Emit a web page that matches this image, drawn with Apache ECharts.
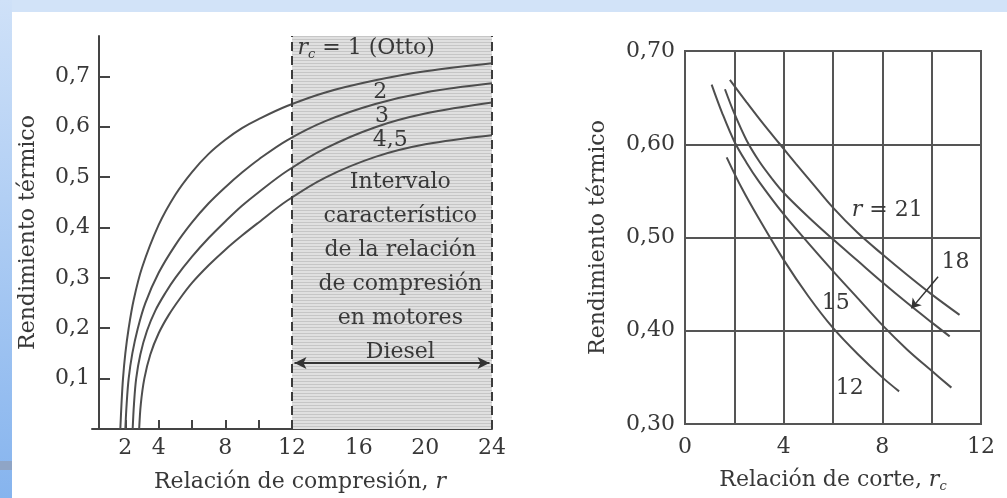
<!DOCTYPE html>
<html><head><meta charset="utf-8">
<script src="https://cdn.jsdelivr.net/npm/echarts@6/dist/echarts.min.js"></script>
<style>html,body{margin:0;padding:0;background:#fff}#c{width:1007px;height:498px}</style>
</head><body><div id="c"></div><script>
// ---------- Left chart: efficiency vs compression ratio, for cutoff ratios ----------
const leftXTicks = [2,4,6,8,10,12,14,16,18,20,22,24];
const leftXLabels = [2,4,8,12,16,20,24];
const leftYTicks = [0.1,0.2,0.3,0.4,0.5,0.6,0.7];
const curveOtto = [[1.70,0],[1.77,0.05],[1.86,0.1],[2.0,0.15],[2.2,0.2],[2.5,0.256],[3,0.32],[4,0.405],[5,0.465],[6,0.51],[7,0.546],[8,0.574],[9,0.597],[10,0.615],[11.7,0.641],[14,0.668],[17,0.692],[20,0.71],[24,0.726]];
const curveRc2 = [[2.0,0],[2.08,0.05],[2.2,0.1],[2.42,0.15],[2.75,0.2],[3.2,0.25],[4,0.31],[5,0.365],[6,0.41],[7,0.448],[8,0.48],[9,0.509],[10,0.535],[11.7,0.573],[14,0.611],[17,0.645],[20,0.668],[24,0.686]];
const curveRc3 = [[2.44,0],[2.52,0.05],[2.65,0.1],[2.9,0.148],[3.3,0.195],[3.8,0.235],[4.4,0.27],[5,0.3],[6,0.342],[7,0.379],[8,0.412],[9,0.443],[10,0.47],[11.7,0.512],[14,0.557],[17,0.599],[20,0.626],[24,0.648]];
const curveRc45 = [[2.83,0],[2.93,0.05],[3.14,0.1],[3.5,0.148],[4,0.19],[4.6,0.226],[5.3,0.26],[6,0.29],[7,0.325],[8,0.356],[9,0.384],[10,0.41],[11.7,0.453],[14,0.499],[17,0.54],[20,0.565],[24,0.583]];
const dieselRange = [12, 24];
const boxLines = ['Intervalo','característico','de la relación','de compresión','en motores','Diesel'];

// ---------- Right chart: efficiency vs cutoff ratio, for compression ratios ----------
const curveR12 = [[1.69,0.586],[2.3,0.553],[3,0.52],[4,0.476],[5,0.437],[6,0.403],[7,0.375],[8,0.35],[8.68,0.335]];
const curveR15 = [[1.08,0.664],[1.5,0.634],[2.0,0.603],[2.5,0.58],[3,0.56],[4,0.525],[5,0.494],[6,0.464],[7,0.435],[8,0.406],[9,0.38],[10,0.357],[10.8,0.339]];
const curveR18 = [[1.62,0.659],[2.0,0.633],[2.5,0.604],[3,0.582],[3.5,0.564],[4,0.548],[5,0.522],[6,0.498],[7,0.475],[8,0.452],[9,0.43],[10,0.409],[10.73,0.394]];
const curveR21 = [[1.82,0.669],[2.5,0.645],[3.2,0.621],[3.85,0.6],[4.5,0.579],[5.2,0.557],[6,0.532],[7,0.505],[8,0.482],[9,0.46],[10,0.439],[11.13,0.417]];

const FONT = 'DejaVu Serif';
const TXT = '#383838';
const LINE = '#4e4e4e';
const fmtComma = v => String(v).replace('.', ',');
const rich = {
  i: {fontFamily: FONT, fontStyle: 'italic', fontSize: 22, color: TXT},
  s: {fontFamily: FONT, fontStyle: 'italic', fontSize: 13, color: TXT, padding: [12,0,0,0]},
  n: {fontFamily: FONT, fontSize: 22, color: TXT}
};

// striped grey fill like the printed screen tone
const stripe = document.createElement('canvas');
stripe.width = 4; stripe.height = 3;
(function () {
  const g = stripe.getContext('2d');
  g.fillStyle = '#e0e0e0'; g.fillRect(0, 0, 4, 3);
  g.fillStyle = '#c6c6c6'; g.fillRect(0, 0, 4, 1);
})();

function curve(data, xi) {
  return {type: 'line', xAxisIndex: xi, yAxisIndex: xi, data: data, showSymbol: false, symbol: 'none',
    smooth: 0.35, lineStyle: {color: LINE, width: 2}, z: 3, silent: true, animation: false};
}
function textPoint(coord, text, extra) {
  return Object.assign({coord: coord, symbolSize: 0,
    label: {show: true, position: 'inside', formatter: text, fontFamily: FONT, fontSize: 22, color: TXT, rich: rich}}, extra || {});
}

const chart = echarts.init(document.getElementById('c'), null, {renderer: 'canvas'});
chart.setOption({
  animation: false,
  backgroundColor: '#ffffff',
  graphic: [
    {type: 'rect', shape: {x: 0, y: 0, width: 1007, height: 12}, style: {fill: '#d2e3f8'}, z: -5},
    {type: 'rect', shape: {x: 0, y: 0, width: 12, height: 498}, z: -5,
      style: {fill: new echarts.graphic.LinearGradient(0,0,0,1,[{offset:0,color:'#cfe1f8'},{offset:1,color:'#86b4ee'}])}},
    {type: 'rect', shape: {x: 0, y: 461, width: 12, height: 9}, style: {fill: '#8fa5c6'}, z: -4}
  ],
  grid: [
    {left: 92, right: 515, top: 36, bottom: 69},
    {left: 685, right: 26, top: 51, bottom: 69, show: true, borderColor: '#555', borderWidth: 2, backgroundColor: 'transparent'}
  ],
  xAxis: [
    {gridIndex: 0, type: 'value', min: 0, max: 24,
      axisLine: {show: true, lineStyle: {color: '#444', width: 2}},
      axisTick: {show: true, inside: true, length: 9, customValues: leftXTicks, lineStyle: {color: '#444', width: 2}},
      axisLabel: {customValues: leftXLabels, fontFamily: FONT, fontSize: 22, color: TXT, margin: 8},
      splitLine: {show: false},
      name: 'Relación de compresión, {i|r}', nameLocation: 'middle', nameGap: 42,
      nameTextStyle: {fontFamily: FONT, fontSize: 22, color: TXT, rich: rich, padding: [0,0,0,16]}},
    {gridIndex: 1, type: 'value', min: 0, max: 12, interval: 2,
      axisLine: {show: false}, axisTick: {show: false},
      axisLabel: {fontFamily: FONT, fontSize: 22, color: TXT, margin: 12, formatter: v => (v % 4 === 0 ? String(v) : '')},
      splitLine: {show: true, lineStyle: {color: '#555', width: 2}},
      name: 'Relación de corte, {i|r}{s|c}', nameLocation: 'middle', nameGap: 44,
      nameTextStyle: {fontFamily: FONT, fontSize: 22, color: TXT, rich: rich}}
  ],
  yAxis: [
    {gridIndex: 0, type: 'value', min: 0, max: 0.78, offset: -7,
      axisLine: {show: true, lineStyle: {color: '#444', width: 2}},
      axisTick: {show: true, inside: true, length: 11, customValues: leftYTicks, lineStyle: {color: '#444', width: 2}},
      axisLabel: {customValues: leftYTicks, fontFamily: FONT, fontSize: 22, color: TXT, margin: 9, formatter: fmtComma},
      splitLine: {show: false},
      name: 'Rendimiento térmico', nameLocation: 'middle', nameGap: 60, nameRotate: 90,
      nameTextStyle: {fontFamily: FONT, fontSize: 22, color: TXT}},
    {gridIndex: 1, type: 'value', min: 0.3, max: 0.7, interval: 0.1,
      axisLine: {show: false}, axisTick: {show: false},
      axisLabel: {fontFamily: FONT, fontSize: 22, color: TXT, margin: 10, formatter: v => v.toFixed(2).replace('.', ',')},
      splitLine: {show: true, lineStyle: {color: '#555', width: 2}},
      name: 'Rendimiento térmico', nameLocation: 'middle', nameGap: 76, nameRotate: 90,
      nameTextStyle: {fontFamily: FONT, fontSize: 22, color: TXT}}
  ],
  series: [
    {type: 'line', xAxisIndex: 0, yAxisIndex: 0, data: [], z: 1, silent: true,
      markArea: {silent: true, itemStyle: {color: {image: stripe, repeat: 'repeat'}},
        data: [[{xAxis: dieselRange[0], yAxis: 0}, {xAxis: dieselRange[1], yAxis: 0.78}]]},
      markLine: {silent: true, symbol: 'none', label: {show: false},
        lineStyle: {color: '#3c3c3c', width: 2, type: [9, 5]},
        data: [{xAxis: dieselRange[0]}, {xAxis: dieselRange[1]}]}},
    curve(curveOtto, 0), curve(curveRc2, 0), curve(curveRc3, 0), curve(curveRc45, 0),
    {type: 'line', xAxisIndex: 0, yAxisIndex: 0, data: [], z: 5, silent: true,
      markLine: {silent: true, symbol: ['arrow','arrow'], symbolSize: [9, 12], label: {show: false},
        lineStyle: {color: '#333', width: 2, type: 'solid'},
        data: [[{coord: [12.15, 0.131]}, {coord: [23.85, 0.131]}]]},
      markPoint: {silent: true, symbol: 'circle', data: [
        textPoint([16.45, 0.755], '{i|r}{s|c}{n| = 1 (Otto)}'),
        textPoint([17.3, 0.669], '2'),
        textPoint([17.4, 0.621], '3'),
        textPoint([17.9, 0.573], '4,5'),
        textPoint([18.5, 0.321], boxLines.join('\n'), {label: {show: true, position: 'inside', formatter: boxLines.join('\n'),
          fontFamily: FONT, fontSize: 22, color: TXT, lineHeight: 34, align: 'center'}})
      ]}},
    curve(curveR12, 1), curve(curveR15, 1), curve(curveR18, 1), curve(curveR21, 1),
    {type: 'line', xAxisIndex: 1, yAxisIndex: 1, data: [], z: 5, silent: true,
      markLine: {silent: true, symbol: ['none','arrow'], symbolSize: 9, label: {show: false},
        lineStyle: {color: '#333', width: 1.5, type: 'solid'},
        data: [[{coord: [10.26, 0.458]}, {coord: [9.18, 0.424]}]]},
      markPoint: {silent: true, symbol: 'circle', data: [
        textPoint([8.2, 0.529], '{i|r}{n| = 21}'),
        textPoint([10.97, 0.4735], '18'),
        textPoint([6.11, 0.429], '15'),
        textPoint([6.68, 0.338], '12')
      ]}}
  ]
});
</script></body></html>
